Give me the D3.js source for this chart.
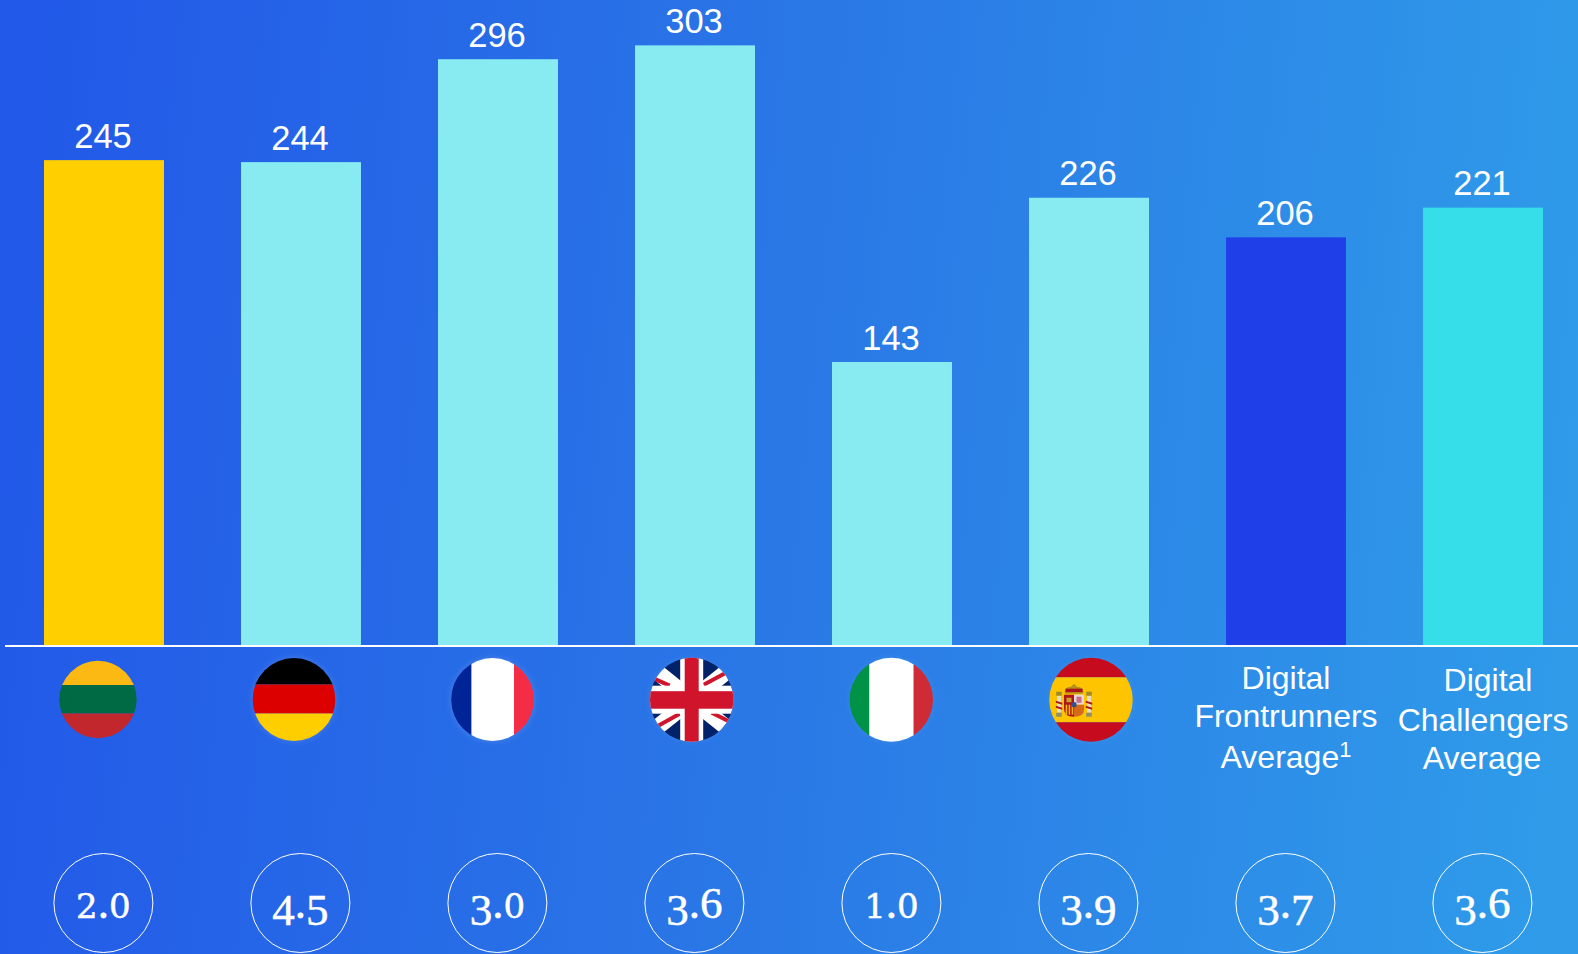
<!DOCTYPE html>
<html>
<head>
<meta charset="utf-8">
<title>Digital scores by country</title>
<script src="https://cdn.jsdelivr.net/npm/d3@7"></script>
<style>
  html, body { margin: 0; padding: 0; background: #2a78e6; overflow: hidden; }
  svg { display: block; }
</style>
</head>
<body>
<script>
// Chart content
const categories = ["Lithuania", "Germany", "France", "United Kingdom", "Italy", "Spain", "Digital Frontrunners Average", "Digital Challengers Average"];
const barValues = [245, 244, 296, 303, 143, 226, 206, 221];
const scores = ["2.0", "4.5", "3.0", "3.6", "1.0", "3.9", "3.7", "3.6"];
const barColors = ["#FFCF00", "#89EBF2", "#89EBF2", "#89EBF2", "#89EBF2", "#89EBF2", "#1F40E8", "#36DEEA"];

const width = 1578, height = 954;
const baseY = 645;
const pxPerUnit = 1.979;

const svg = d3.select("body").append("svg")
  .attr("width", width).attr("height", height)
  .attr("viewBox", `0 0 ${width} ${height}`);
const defs = svg.append("defs");

// Background wash
const bg = defs.append("linearGradient").attr("id", "bg")
  .attr("x1", "0").attr("y1", "0.47").attr("x2", "1").attr("y2", "0.53");
bg.append("stop").attr("offset", "0").attr("stop-color", "#2259E8");
bg.append("stop").attr("offset", "0.5").attr("stop-color", "#2A78E6");
bg.append("stop").attr("offset", "1").attr("stop-color", "#2F9BE9");
svg.append("rect").attr("width", width).attr("height", height).attr("fill", "url(#bg)");

// Scales
const x = d3.scaleBand().domain(categories).range([44, 1543]).paddingInner(0.391).paddingOuter(0);
const y = d3.scaleLinear().domain([0, 303]).range([baseY, baseY - 303 * pxPerUnit]);
const cx = d => x(d) + x.bandwidth() / 2;

// Bars
svg.append("g").selectAll("rect").data(categories).join("rect")
  .attr("x", d => x(d))
  .attr("y", (d, i) => y(barValues[i]))
  .attr("width", x.bandwidth())
  .attr("height", (d, i) => baseY - y(barValues[i]))
  .attr("fill", (d, i) => barColors[i]);

// Value labels
svg.append("g").selectAll("text").data(categories).join("text")
  .attr("x", d => cx(d) - 1)
  .attr("y", (d, i) => y(barValues[i]) - 12.5)
  .attr("text-anchor", "middle")
  .attr("font-family", "'Liberation Sans', Arial, sans-serif")
  .attr("font-size", 34.5)
  .attr("fill", "#fff")
  .text((d, i) => barValues[i]);

// Baseline axis
svg.append("rect").attr("x", 5).attr("y", baseY).attr("width", width - 5).attr("height", 2).attr("fill", "#fff");

// Flags: each is a set of shapes clipped to an ellipse
const flagLayout = {
  "Lithuania":      { dx: -6,   cy: 699.5, rx: 38.7, ry: 38.7, halo: 0 },
  "Germany":        { dx: -7,   cy: 699.5, rx: 41.3, ry: 41.5, halo: 0.16 },
  "France":         { dx: -5.5, cy: 699.5, rx: 41.3, ry: 41.5, halo: 0.16 },
  "United Kingdom": { dx: -3.3, cy: 699.7, rx: 41.7, ry: 42, halo: 0.08 },
  "Italy":          { dx: -0.7, cy: 699.7, rx: 41.7, ry: 42, halo: 0.08 },
  "Spain":          { dx: 2,    cy: 699.7, rx: 41.7, ry: 42, halo: 0.08 }
};

function flagGroup(name, i) {
  const f = flagLayout[name];
  const fx = cx(name) + f.dx;
  const id = "clip" + i;
  defs.append("clipPath").attr("id", id).append("ellipse")
    .attr("cx", fx).attr("cy", f.cy).attr("rx", f.rx).attr("ry", f.ry);
  const holder = svg.append("g");
  if (f.halo) holder.style("filter", `drop-shadow(0 0 3px rgba(255,255,255,${f.halo}))`);
  const g = holder.append("g").attr("clip-path", `url(#${id})`);
  return { g, fx, f };
}

function hStripes(g, fx, f, stops, colors) {
  colors.forEach((c, k) => {
    g.append("rect").attr("x", fx - f.rx - 1).attr("width", 2 * f.rx + 2)
      .attr("y", f.cy + stops[k]).attr("height", stops[k + 1] - stops[k]).attr("fill", c);
  });
}
function vStripes(g, fx, f, stops, colors) {
  colors.forEach((c, k) => {
    g.append("rect").attr("y", f.cy - f.ry - 1).attr("height", 2 * f.ry + 2)
      .attr("x", fx + stops[k]).attr("width", stops[k + 1] - stops[k]).attr("fill", c);
  });
}

categories.slice(0, 6).forEach((name, i) => {
  const { g, fx, f } = flagGroup(name, i);
  if (name === "Lithuania") hStripes(g, fx, f, [-40, -14.5, 14, 40], ["#FDB913", "#006A44", "#C1272D"]);
  if (name === "Germany") hStripes(g, fx, f, [-43, -15, 14, 43], ["#000000", "#DD0000", "#FFCE00"]);
  if (name === "France") vStripes(g, fx, f, [-43, -21, 21.5, 43], ["#002395", "#FFFFFF", "#F42C46"]);
  if (name === "Italy") vStripes(g, fx, f, [-43, -22, 22.4, 43], ["#009246", "#FFFFFF", "#CE2B37"]);
  if (name === "United Kingdom") drawUnion(g, fx, f);
  if (name === "Spain") drawSpain(g, fx, f);
});

function drawUnion(g, fx, f) {
  g.append("ellipse").attr("cx", fx).attr("cy", f.cy).attr("rx", f.rx + 1).attr("ry", f.ry + 1).attr("fill", "#012169");
  const run = 60, rise = 48;
  [[-1, -1], [1, -1], [-1, 1], [1, 1]].forEach(([sx, sy]) => {
    g.append("line").attr("x1", fx).attr("y1", f.cy)
      .attr("x2", fx + sx * run).attr("y2", f.cy + sy * rise)
      .attr("stroke", "#fff").attr("stroke-width", 16);
  });
  // Off-centre red saltire strokes, visible only towards the rim
  [[-40, -22, -22, -14], [38, -29, 12, -15], [-37, 28, -12, 14], [42, 24, 20, 13]].forEach(([a, b, c, d]) => {
    g.append("line").attr("x1", fx + a).attr("y1", f.cy + b).attr("x2", fx + c).attr("y2", f.cy + d)
      .attr("stroke", "#CF142B").attr("stroke-width", 4);
  });
  g.append("rect").attr("x", fx - f.rx - 1).attr("y", f.cy - 14).attr("width", 2 * f.rx + 2).attr("height", 28).attr("fill", "#fff");
  g.append("rect").attr("x", fx - 11.5).attr("y", f.cy - f.ry - 1).attr("width", 23).attr("height", 2 * f.ry + 2).attr("fill", "#fff");
  g.append("rect").attr("x", fx - 7).attr("y", f.cy - f.ry - 1).attr("width", 14).attr("height", 2 * f.ry + 2).attr("fill", "#CF142B");
  g.append("rect").attr("x", fx - f.rx - 1).attr("y", f.cy - 8.5).attr("width", 2 * f.rx + 2).attr("height", 17.5).attr("fill", "#CF142B");
}

function drawSpain(g, fx, f) {
  hStripes(g, fx, f, [-43, -22.4, 22.6, 43], ["#C60B1E", "#FFC400", "#C60B1E"]);
  // Coat of arms, left of centre
  const a = g.append("g").attr("transform", `translate(${fx - 17},${f.cy + 3})`);
  // Pillars
  [-15, 15].forEach(px => {
    a.append("rect").attr("x", px - 1.9).attr("y", -7).attr("width", 3.8).attr("height", 17).attr("fill", "#E4DDD0");
    a.append("rect").attr("x", px - 2.8).attr("y", -11).attr("width", 5.6).attr("height", 4).attr("fill", "#9C8A2C");
    a.append("rect").attr("x", px - 2.8).attr("y", 10).attr("width", 5.6).attr("height", 4).attr("fill", "#8F8F6A");
    a.append("path").attr("d", `M${px - 3.2},-2 L${px + 3.2},0 L${px + 3.2},2 L${px - 3.2},0 Z`).attr("fill", "#AD1519");
    a.append("path").attr("d", `M${px - 3.2},3 L${px + 3.2},5 L${px + 3.2},7 L${px - 3.2},5 Z`).attr("fill", "#AD1519");
  });
  // Crown
  a.append("path").attr("d", "M-9,-9 Q-10.5,-16 -3,-16 L0,-19 L3,-16 Q10.5,-16 9,-9 Z").attr("fill", "#B5901C");
  a.append("rect").attr("x", -8.5).attr("y", -14).attr("width", 17).attr("height", 3.4).attr("fill", "#AD1519");
  // Shield quarters
  a.append("path").attr("d", "M-10,-8 H0 V14 Q-10,14 -10,6 Z").attr("fill", "#AD1519");
  a.append("rect").attr("x", 0).attr("y", -8).attr("width", 10).attr("height", 10).attr("fill", "#EBD3DA");
  a.append("path").attr("d", "M0,2 H10 V7 Q10,14 0,14 Z").attr("fill", "#D56A1C");
  [-8.4, -5.4, -2.4].forEach(sx => {
    a.append("rect").attr("x", sx).attr("y", 2).attr("width", 1.6).attr("height", 10).attr("fill", "#F3B400");
  });
  a.append("rect").attr("x", -7.5).attr("y", -5).attr("width", 5).attr("height", 4.5).attr("fill", "#C9A227");
  a.append("path").attr("d", "M2.5,-6 L7.5,-6 L7.5,0 L2.5,0 Z").attr("fill", "#B2436A").attr("opacity", 0.7);
  a.append("circle").attr("cx", 0).attr("cy", 2).attr("r", 2.6).attr("fill", "#34508E");
}

// Text labels for the two averages
const avgLabels = [
  { name: categories[6], lines: [
    { t: "Digital", dx: 0, y: 689 },
    { t: "Frontrunners", dx: 0, y: 727 },
    { t: "Average", sup: "1", dx: 0, y: 768 }
  ]},
  { name: categories[7], lines: [
    { t: "Digital", dx: 5, y: 691 },
    { t: "Challengers", dx: 0, y: 731 },
    { t: "Average", dx: -1, y: 769 }
  ]}
];
avgLabels.forEach(l => {
  l.lines.forEach(line => {
    const t = svg.append("text")
      .attr("x", cx(l.name) + line.dx)
      .attr("y", line.y)
      .attr("text-anchor", "middle")
      .attr("font-family", "'Liberation Sans', Arial, sans-serif")
      .attr("font-size", 32)
      .attr("fill", "#fff");
    t.append("tspan").text(line.t);
    if (line.sup) t.append("tspan").attr("dy", -11).attr("font-size", 22).text(line.sup);
  });
});

// Score badges; digits are set old-style, so each glyph gets its own size and baseline
const shortDigits = "012";
const dropDigits = "34579";
svg.append("g").selectAll("circle").data(categories).join("circle")
  .attr("cx", d => cx(d) - 0.6)
  .attr("cy", 903)
  .attr("r", 49.5)
  .attr("fill", "none")
  .attr("stroke", "#fff")
  .attr("stroke-width", 1);

const scoreText = svg.append("g").selectAll("text").data(categories).join("text")
  .attr("x", d => cx(d) - 0.6)
  .attr("y", 918)
  .attr("text-anchor", "middle")
  .attr("fill", "#fff")
  .attr("stroke", "#fff")
  .attr("stroke-width", 0.5);

scoreText.each(function (d, i) {
  const t = d3.select(this);
  let shift = 0;
  scores[i].split("").forEach(ch => {
    let size = 45, family = "'Liberation Serif', serif", base = 0;
    if (shortDigits.includes(ch)) { size = 34; family = "'DejaVu Serif', serif"; }
    else if (dropDigits.includes(ch)) { base = 7; }
    t.append("tspan")
      .attr("font-family", family)
      .attr("font-size", size)
      .attr("dy", base - shift)
      .text(ch);
    shift = base;
  });
});
</script>
</body>
</html>
